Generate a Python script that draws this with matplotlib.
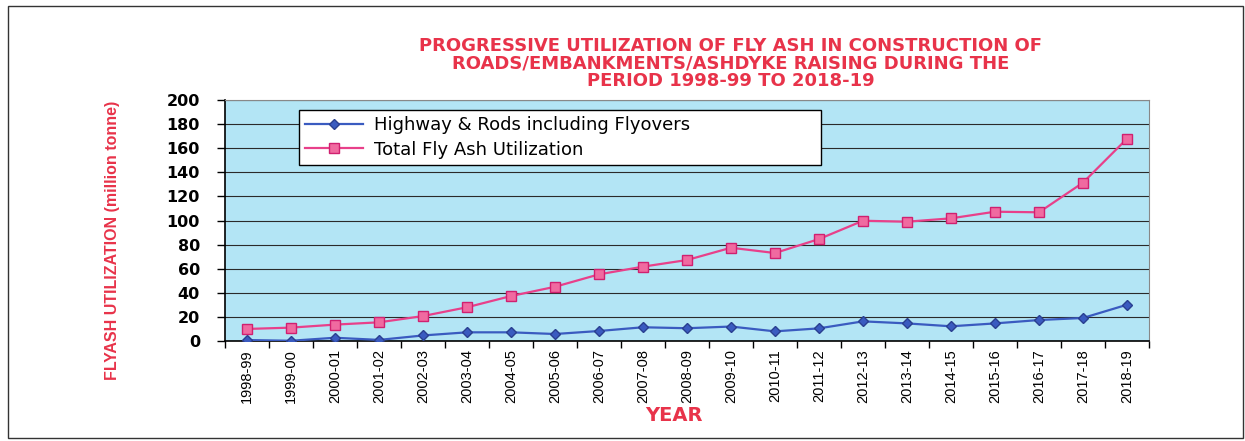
import matplotlib.pyplot as plt
import matplotlib.patches as mpatches
import numpy as np

# Data (million tonne)
years = ['1998-99', '1999-00', '2000-01', '2001-02', '2002-03', '2003-04',
         '2004-05', '2005-06', '2006-07', '2007-08', '2008-09', '2009-10',
         '2010-11', '2011-12', '2012-13', '2013-14', '2014-15', '2015-16',
         '2016-17', '2017-18', '2018-19']
highway = [0.8, 0.2, 2.7, 0.9, 4.6, 7.2, 7.2, 5.8, 8.3, 11.4, 10.6, 12.0,
           8.0, 10.5, 16.3, 14.6, 12.2, 14.6, 17.4, 19.1, 30.1]
total = [10.0, 11.1, 13.6, 15.5, 20.7, 28.0, 37.3, 45.0, 55.3, 61.7, 67.2, 77.4,
         73.0, 84.6, 99.8, 99.0, 101.8, 107.3, 106.8, 131.4, 167.9]
yticks = list(range(0, 201, 20))

red = '#E8334A'
narrow = ['Liberation Sans', 'DejaVu Sans']

fig = plt.figure(figsize=(12.45, 4.41), dpi=100)
ax = fig.add_axes([225/1245, 1 - 341/441, 924/1245, 241/441])
ax.set_facecolor('#B3E5F5')

x = np.arange(len(years))
ax.plot(x, highway, color='#3A5BC0', lw=1.6, marker='D', ms=5,
        mfc='#3A5BC0', mec='#2A3F90', label='Highway & Rods including Flyovers', zorder=3)
ax.plot(x, total, color='#E8408A', lw=1.6, marker='s', ms=7,
        mfc='#F06AA0', mec='#D02070', label='Total Fly Ash Utilization', zorder=3)

ax.set_xlim(-0.5, len(years) - 0.5)
ax.set_ylim(0, 200)
ax.set_yticks(yticks)
ax.set_yticklabels([str(v) for v in yticks], fontsize=11.5, fontweight='bold')
ax.yaxis.grid(True, color='#2a2a2a', lw=0.8)
ax.set_axisbelow(True)
ax.tick_params(axis='y', direction='out', length=6, width=1, pad=12)

ax.set_xticks(x)
ax.set_xticklabels(years, rotation=90, fontsize=10.5, family=narrow)
ax.set_xticks(np.arange(-0.5, len(years)), minor=True)
ax.tick_params(axis='x', which='major', length=0, pad=6)
ax.tick_params(axis='x', which='minor', direction='out', length=5, width=1)

for s in ['top', 'right']:
    ax.spines[s].set_color('#888888')
for s in ['left', 'bottom']:
    ax.spines[s].set_color('black')
    ax.spines[s].set_linewidth(1.2)

leg = ax.legend(loc='upper left', bbox_to_anchor=(0.080, 0.742, 0.565, 0.216),
                mode='expand', fontsize=13, frameon=True, fancybox=False,
                handlelength=3.2, borderaxespad=0, labelspacing=0.35,
                borderpad=0.35, handletextpad=0.6)
leg.get_frame().set_edgecolor('black')
leg.get_frame().set_facecolor('white')
leg.get_frame().set_alpha(1)

fig.text(0.587, 0.856, 'PROGRESSIVE UTILIZATION OF FLY ASH IN CONSTRUCTION OF\n'
         'ROADS/EMBANKMENTS/ASHDYKE RAISING DURING THE\n'
         'PERIOD 1998-99 TO 2018-19',
         ha='center', va='center', color=red, fontsize=13, fontweight='bold',
         linespacing=0.95)
fig.text(0.541, 0.058, 'YEAR', ha='center', va='center', color=red,
         fontsize=14, fontweight='bold')
fig.text(0.09, 0.456, 'FLYASH UTILIZATION (million tonne)', rotation=90,
         ha='center', va='center', color=red, fontsize=11.5, fontweight='bold',
         family=narrow)

border = mpatches.Rectangle((8/1245, 1 - 438/441), 1235/1245, 432/441,
                            transform=fig.transFigure, fill=False,
                            edgecolor='#333333', lw=1)
fig.patches.append(border)

fig.savefig('out.png', dpi=100)
